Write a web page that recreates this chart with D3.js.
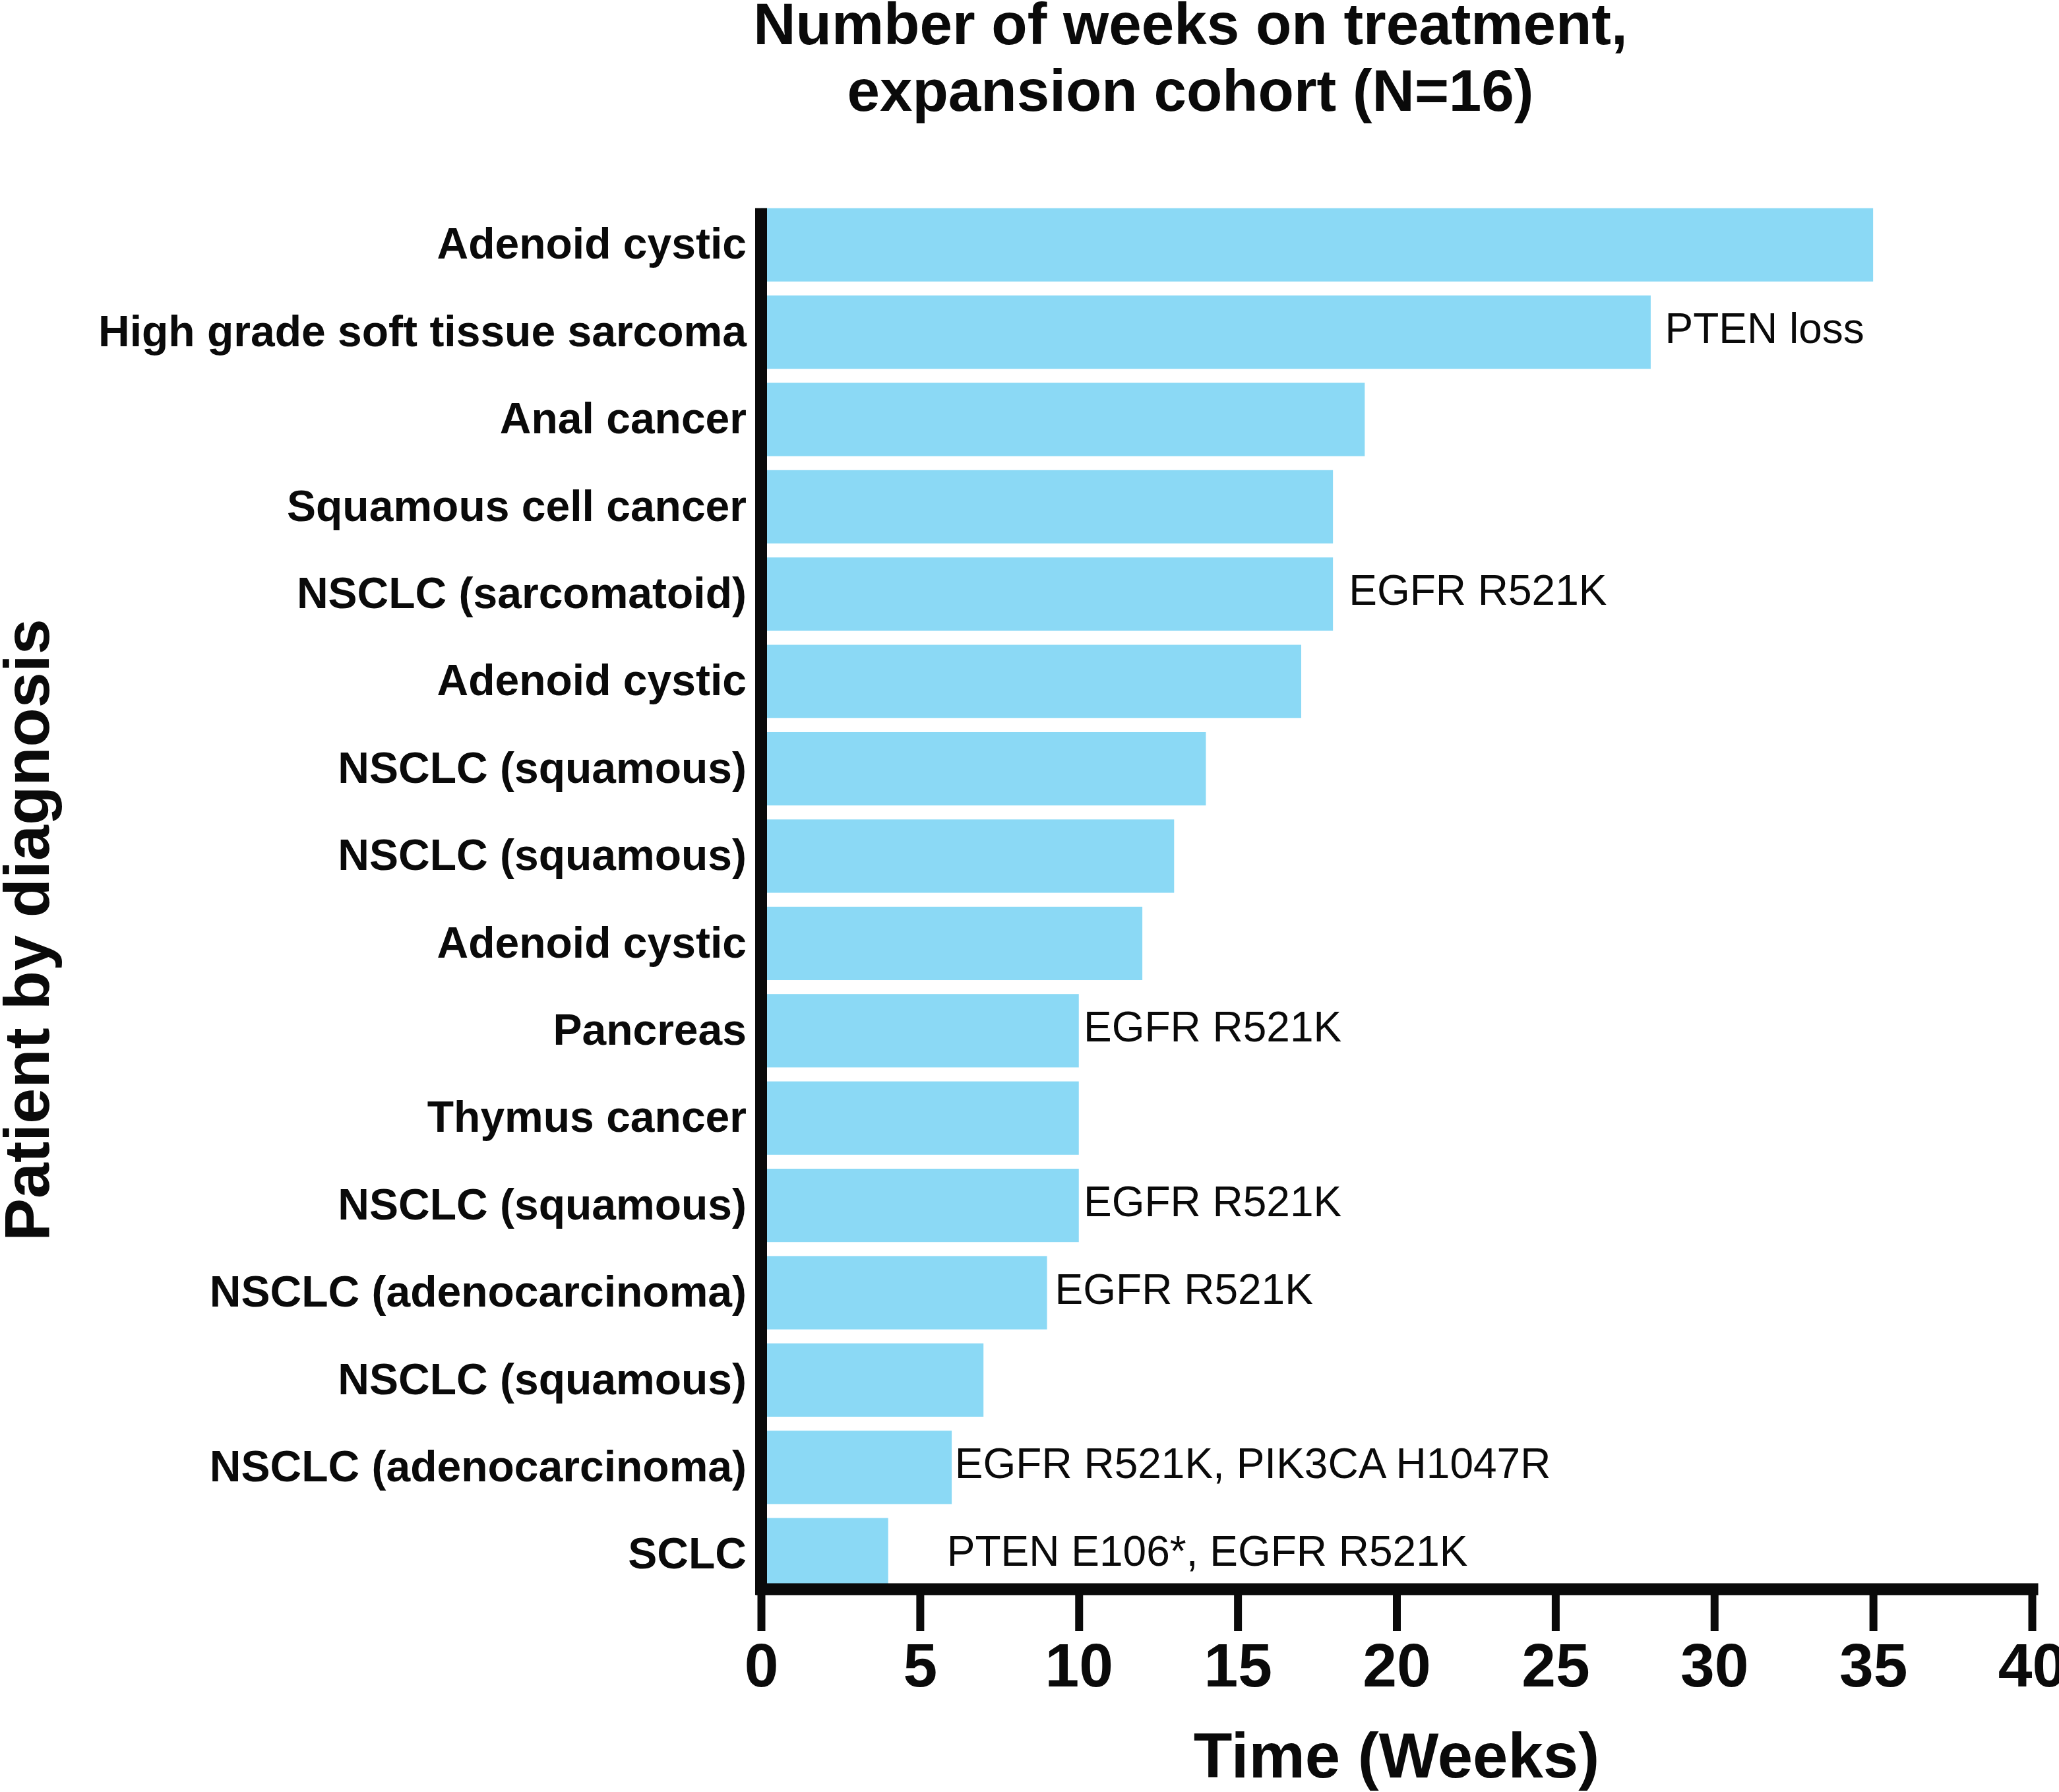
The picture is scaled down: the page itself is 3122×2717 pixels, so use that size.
<!DOCTYPE html>
<html lang="en">
<head>
  <meta charset="UTF-8">
  <title>Weeks on treatment</title>
  <script src="https://d3js.org/d3.v7.min.js"></script>
  <style>
    body {
      margin: 0;
      background: #fff;
    }
    svg text {
      font-family: "Liberation Sans", Arial, sans-serif;
      fill: #0a0a0a;
    }
    .cat-axis text {
      font-weight: bold;
      font-size: 66px;
    }
    .x-axis text {
      font-weight: bold;
      font-size: 93px;
    }
    .note {
      font-size: 64px;
    }
  </style>
</head>
<body>
  <div id="chart"></div>

  <script>
    // Patients, top to bottom
    const diagnoses = [
      "Adenoid cystic", "High grade soft tissue sarcoma", "Anal cancer",
      "Squamous cell cancer", "NSCLC (sarcomatoid)", "Adenoid cystic",
      "NSCLC (squamous)", "NSCLC (squamous)", "Adenoid cystic", "Pancreas",
      "Thymus cancer", "NSCLC (squamous)", "NSCLC (adenocarcinoma)",
      "NSCLC (squamous)", "NSCLC (adenocarcinoma)", "SCLC"
    ];
    const weeks = [35, 28, 19, 18, 18, 17, 14, 13, 12, 10, 10, 10, 9, 7, 6, 4];

    // Mutation notes: row index, text, where the text starts (in weeks)
    const noteRows = [1, 4, 9, 11, 12, 14, 15];
    const noteTexts = [
      "PTEN loss", "EGFR R521K", "EGFR R521K", "EGFR R521K", "EGFR R521K",
      "EGFR R521K, PIK3CA H1047R", "PTEN E106*, EGFR R521K"
    ];
    const noteAt = [28.45, 18.5, 10.15, 10.15, 9.25, 6.1, 5.85];

    const xTicks = [0, 5, 10, 15, 20, 25, 30, 35, 40];

    const title = ["Number of weeks on treatment,", "expansion cohort (N=16)"];
    const xTitle = "Time (Weeks)";
    const yTitle = "Patient by diagnosis";

    const width = 3122;
    const height = 2717;
    const barColor = "#8bd9f5";

    const svg = d3.select("#chart")
      .append("svg")
      .attr("width", width)
      .attr("height", height);

    // Scales
    const x = d3.scaleLinear()
      .domain([0, 40])
      .range([1154, 3081]);

    const y = d3.scaleBand()
      .domain(d3.range(diagnoses.length))
      .range([305, 305 + 16 * 132.4])
      .paddingInner(0.16)
      .paddingOuter(0.08);

    const xAxisY = 2409;

    // Bars
    svg.selectAll(".bar")
      .data(weeks)
      .enter()
      .append("rect")
      .attr("class", "bar")
      .attr("x", x(0))
      .attr("y", (d, i) => y(i))
      .attr("width", d => x(d) - x(0))
      .attr("height", y.bandwidth())
      .attr("fill", barColor);

    // Notes next to bars
    svg.selectAll(".note")
      .data(noteRows)
      .enter()
      .append("text")
      .attr("class", "note")
      .attr("x", (d, i) => x(noteAt[i]))
      .attr("y", d => y(d) + y.bandwidth() / 2)
      .attr("dy", "0.26em")
      .text((d, i) => noteTexts[i]);

    // Category labels
    const yAxis = d3.axisLeft(y)
      .tickSize(0)
      .tickPadding(22)
      .tickFormat(i => diagnoses[i]);

    svg.append("g")
      .attr("class", "cat-axis")
      .attr("transform", `translate(${x(0)},0)`)
      .call(yAxis)
      .call(g => g.select(".domain").remove());

    // Vertical axis line
    svg.append("line")
      .attr("x1", x(0))
      .attr("x2", x(0))
      .attr("y1", y(0))
      .attr("y2", xAxisY + 9)
      .attr("stroke", "#0a0a0a")
      .attr("stroke-width", 18);

    // X axis
    const xAxis = d3.axisBottom(x)
      .tickValues(xTicks)
      .tickSize(64)
      .tickSizeOuter(0)
      .tickPadding(18)
      .tickFormat(d3.format("d"));

    svg.append("g")
      .attr("class", "x-axis")
      .attr("transform", `translate(0,${xAxisY})`)
      .call(xAxis)
      .call(g => g.select(".domain")
        .attr("stroke", "#0a0a0a")
        .attr("stroke-width", 18)
        .attr("stroke-linecap", "square"))
      .call(g => g.selectAll(".tick line")
        .attr("stroke", "#0a0a0a")
        .attr("stroke-width", 12));

    // Axis titles
    svg.append("text")
      .attr("x", (x.range()[0] + x.range()[1]) / 2)
      .attr("y", 2695)
      .attr("text-anchor", "middle")
      .attr("font-weight", "bold")
      .attr("font-size", 96)
      .text(xTitle);

    svg.append("text")
      .attr("transform", "translate(74,1410) rotate(-90)")
      .attr("text-anchor", "middle")
      .attr("font-weight", "bold")
      .attr("font-size", 97)
      .text(yTitle);

    // Chart title
    svg.append("text")
      .attr("text-anchor", "middle")
      .attr("font-weight", "bold")
      .attr("font-size", 89)
      .selectAll("tspan")
      .data(title)
      .enter()
      .append("tspan")
      .attr("x", 1805)
      .attr("y", (d, i) => 67 + i * 101)
      .text(d => d);
  </script>
</body>
</html>
